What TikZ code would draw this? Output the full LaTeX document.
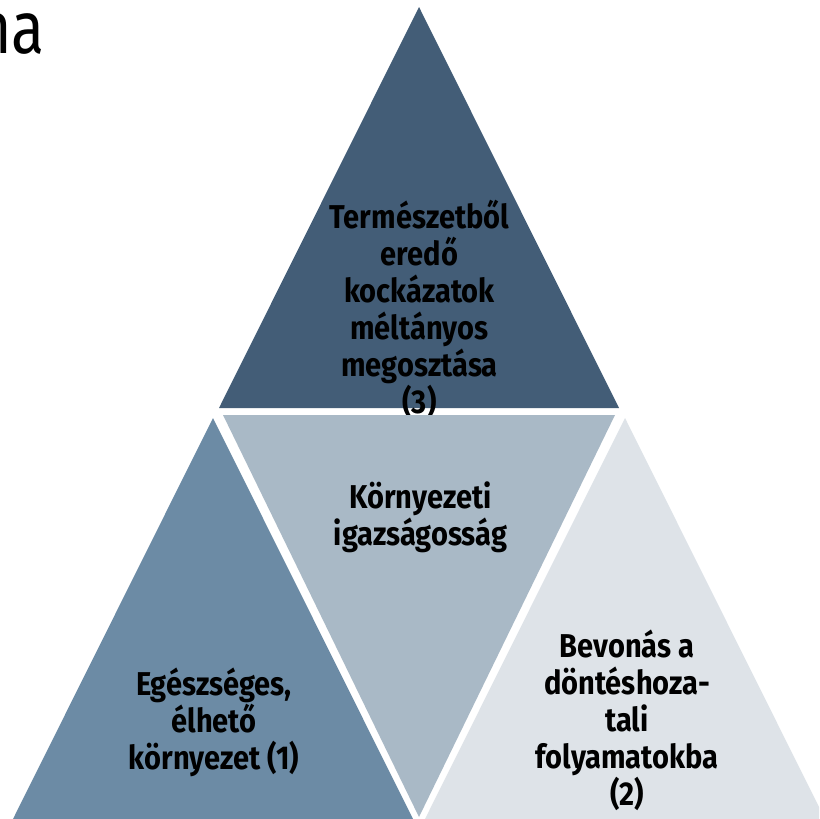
\documentclass[tikz,border=0pt]{standalone}
\usepackage{fontspec}
\setmainfont{Fira Sans}[FakeStretch=0.88]
\newfontfamily\titlefont{Fira Sans}[FakeStretch=0.82]
\begin{document}
\begin{tikzpicture}[x=1pt,y=-1pt,
  tri/.style={draw=none},
  lbl/.style={align=center,inner sep=0pt,text=black,font=\bfseries\fontsize{33}{37}\selectfont}]
\definecolor{cTop}{HTML}{435D77}
\definecolor{cMid}{HTML}{A9B9C6}
\definecolor{cLeft}{HTML}{6C8BA5}
\definecolor{cRight}{HTML}{DEE3E8}
\useasboundingbox (0,0) rectangle (819,819);
\clip (0,0) rectangle (819,819);
\fill[white] (0,0) rectangle (819,819);
% title fragment
\node[anchor=base east,inner sep=0pt,font=\titlefont\fontsize{74}{80}\selectfont] (title) at (45,53) {na};
% top triangle
\fill[cTop] (419,7) -- (219,408) -- (619,408) -- cycle;
\node[lbl] (t3) at (419.5,309) {Természetből\\eredő\\kockázatok\\méltányos\\megosztása\\(3)};
% middle inverted triangle
\fill[cMid] (223,415) -- (615,415) -- (419,817) -- cycle;
\node[lbl] (tm) at (420.5,517) {Környezeti\\igazságosság};
% left triangle
\fill[cLeft] (213,418) -- (413,819) -- (13,819) -- cycle;
\node[lbl] (t1) at (214,722) {Egészséges,\\élhető\\környezet (1)};
% right triangle
\fill[cRight] (625,418) -- (825,819) -- (425,819) -- cycle;
\node[lbl] (t2) at (627,720) {Bevonás a\\döntéshoza-\\tali\\folyamatokba\\(2)};
\end{tikzpicture}
\end{document}
